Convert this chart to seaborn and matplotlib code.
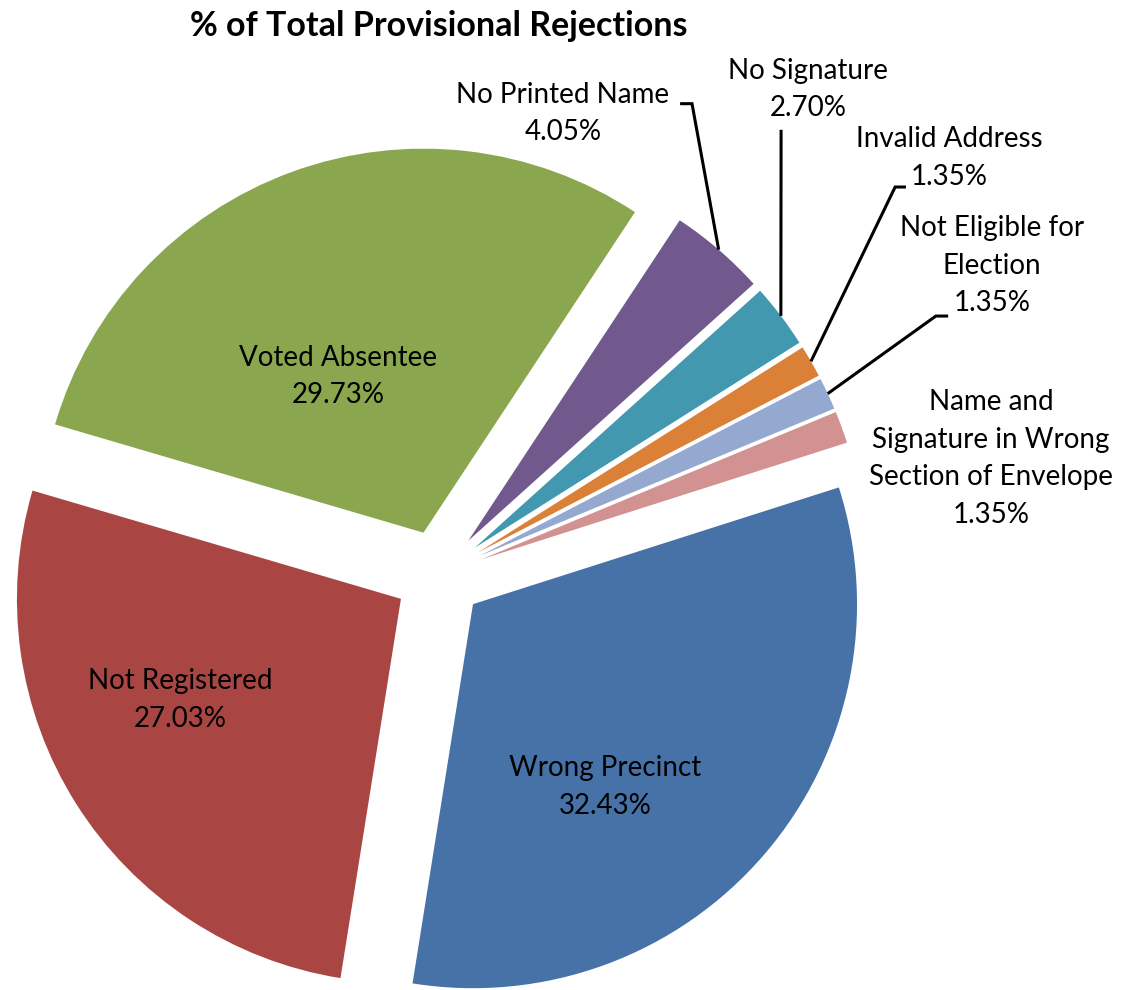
import numpy as np
import matplotlib
matplotlib.use('Agg')
import matplotlib.pyplot as plt
import seaborn as sns

categories = ['Wrong Precinct', 'Not Registered', 'Voted Absentee', 'No Printed Name',
              'No Signature', 'Invalid Address', 'Not Eligible for\nElection',
              'Name and\nSignature in Wrong\nSection of Envelope']
shares = [32.43, 27.03, 29.73, 4.05, 2.70, 1.35, 1.35, 1.35]
colors = ['#4672A8', '#A94643', '#8AA64F', '#71598E', '#4198AF', '#DA8137', '#95A9D0', '#D19291']

# label anchors (data units, pie radius = 1) and leader elbows
label_pos = [(0.432, -0.552), (-0.674, -0.326), (-0.263, 0.516), (0.323, 1.201),
             (0.961, 1.264), (1.328, 1.085), (1.440, 0.805), (1.4375, 0.303)]
leaders = {3: [(0.628, 1.227), (0.659, 1.227)],
           4: [(0.891, 1.159)],
           5: [(1.216, 1.010), (1.188, 1.010)],
           6: [(1.326, 0.674), (1.294, 0.674)]}

sns.set_theme(style='white')
plt.rcParams['font.family'] = ['Lato', 'DejaVu Sans']

EXPLODE = 0.117
fig = plt.figure(figsize=(11.34, 9.9), dpi=100)
ax = fig.add_axes([0, 0, 1, 1])
wedges, _ = ax.pie(shares, colors=colors, startangle=17.7, counterclock=False,
                   explode=[EXPLODE] * len(shares), radius=1.0,
                   wedgeprops=dict(linewidth=0))

for i, (name, val) in enumerate(zip(categories, shares)):
    x, y = label_pos[i]
    ax.text(x, y, f'{name}\n{val:.2f}%', ha='center', va='center', fontsize=20,
            color='black', linespacing=1.55)
    if i in leaders:
        w = wedges[i]
        mid = np.deg2rad((w.theta1 + w.theta2) / 2)
        end = ((1 + EXPLODE) * np.cos(mid), (1 + EXPLODE) * np.sin(mid))
        pts = leaders[i] + [end]
        ax.plot([p[0] for p in pts], [p[1] for p in pts], color='black', lw=2.2,
                solid_capstyle='butt', solid_joinstyle='miter')

ax.text(0.0, 1.43, '% of Total Provisional Rejections', ha='center', va='center',
        fontsize=24.5, fontweight='bold', color='black')

ax.set_aspect('auto')
ax.set_xlim(-1.143, 1.810)
ax.set_ylim(-1.081, 1.497)
ax.axis('off')
fig.savefig('out.png', dpi=100, facecolor='white')
